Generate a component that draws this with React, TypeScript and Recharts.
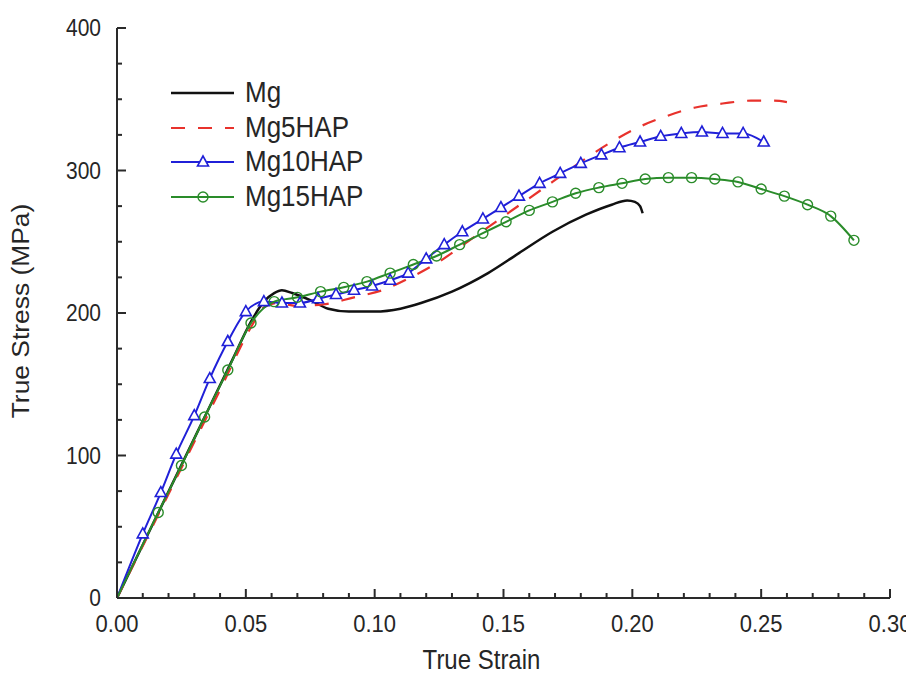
import { LineChart, Line, XAxis, YAxis, Legend, Label } from 'recharts';

// Mg (black solid)
const MG_X = [0, 0.03, 0.045, 0.052, 0.057, 0.061, 0.064, 0.068, 0.075, 0.082, 0.09, 0.1, 0.11, 0.118, 0.13, 0.144, 0.156, 0.169, 0.182, 0.192, 0.198, 0.201, 0.203, 0.204];
const MG_Y = [0, 112, 168, 194, 208, 214, 216, 214, 209, 203, 201, 201, 203, 207, 215, 228, 242, 257, 269, 276, 279, 278, 275, 270];

// Mg5HAP (red dashed)
const MG5_X = [0, 0.02, 0.04, 0.052, 0.057, 0.062, 0.07, 0.08, 0.092, 0.103, 0.114, 0.125, 0.136, 0.147, 0.158, 0.169, 0.18, 0.191, 0.202, 0.213, 0.224, 0.235, 0.246, 0.255, 0.26];
const MG5_Y = [0, 73, 146, 190, 204, 207, 205, 206, 211, 216, 225, 236, 250, 264, 278, 292, 306, 319, 330, 338, 344, 347, 349, 349, 348];

// Mg10HAP (blue, open triangles)
const MG10_X = [0, 0.01, 0.017, 0.023, 0.03, 0.036, 0.043, 0.05, 0.057, 0.064, 0.071, 0.078, 0.085, 0.092, 0.099, 0.106, 0.113, 0.12, 0.127, 0.134, 0.142, 0.149, 0.156, 0.164, 0.172, 0.18, 0.188, 0.195, 0.203, 0.211, 0.219, 0.227, 0.235, 0.243, 0.251];
const MG10_Y = [0, 45, 74, 101, 128, 154, 180, 201, 208, 207, 207, 210, 213, 216, 219, 223, 228, 238, 248, 257, 266, 274, 282, 291, 298, 305, 311, 316, 320, 324, 326, 327, 326, 326, 320];

// Mg15HAP (green, open circles)
const MG15_X = [0, 0.016, 0.025, 0.034, 0.043, 0.052, 0.061, 0.07, 0.079, 0.088, 0.097, 0.106, 0.115, 0.124, 0.133, 0.142, 0.151, 0.16, 0.169, 0.178, 0.187, 0.196, 0.205, 0.214, 0.223, 0.232, 0.241, 0.25, 0.259, 0.268, 0.277, 0.286];
const MG15_Y = [0, 60, 93, 127, 160, 193, 208, 211, 215, 218, 222, 228, 234, 240, 248, 256, 264, 272, 278, 284, 288, 291, 294, 295, 295, 294, 292, 287, 282, 276, 268, 251];

const X_TICKS = [0, 0.01, 0.02, 0.03, 0.04, 0.05, 0.06, 0.07, 0.08, 0.09, 0.1, 0.11, 0.12, 0.13, 0.14, 0.15, 0.16, 0.17, 0.18, 0.19, 0.2, 0.21, 0.22, 0.23, 0.24, 0.25, 0.26, 0.27, 0.28, 0.29, 0.3];
const X_TOP_TICKS = [0.05, 0.1, 0.15, 0.2, 0.25];
const Y_TICKS = [0, 25, 50, 75, 100, 125, 150, 175, 200, 225, 250, 275, 300, 325, 350, 375, 400];
const Y_RIGHT_TICKS = [100, 200, 300];

const SERIES = ['Mg', 'Mg5HAP', 'Mg10HAP', 'Mg15HAP'];
const COLORS = ['#111111', '#e8322c', '#2020d8', '#2a8c2a'];

const toPoints = (xs: number[], ys: number[]) => xs.map((x, i) => ({ x, y: ys[i] }));

const mg = toPoints(MG_X, MG_Y);
const mg5 = toPoints(MG5_X, MG5_Y);
const mg10 = toPoints(MG10_X, MG10_Y);
const mg15 = toPoints(MG15_X, MG15_Y);

const FONT = 'Liberation Sans, Arial, sans-serif';
const TXT = '#262626';
const AXIS = '#2a2a2a';
const STRETCH = 1.12; // reference text is a bit taller than wide

// text stretched vertically around its anchor point
function Txt({ x, y, anchor, size, children }: any) {
  return (
    <g transform={`translate(${x},${y}) scale(1,${STRETCH})`}>
      <text x={0} y={0} textAnchor={anchor} fontFamily={FONT} fontSize={size} fill={TXT}>
        {children}
      </text>
    </g>
  );
}

const isMajorX = (v: number) => Math.abs(v * 20 - Math.round(v * 20)) < 1e-6;

function XTick(props: any) {
  const { x, y, payload } = props;
  const major = isMajorX(payload.value);
  return (
    <g>
      <line x1={x} x2={x} y1={y} y2={y - (major ? 9 : 5)} stroke={AXIS} strokeWidth={2} />
      {major && (
        <Txt x={x} y={y + 34} anchor="middle" size={22}>
          {payload.value.toFixed(2)}
        </Txt>
      )}
    </g>
  );
}

function YTick(props: any) {
  const { x, y, payload } = props;
  const major = payload.value % 100 === 0;
  return (
    <g>
      <line x1={x} x2={x + (major ? 9 : 5)} y1={y} y2={y} stroke={AXIS} strokeWidth={2} />
      {major && (
        <Txt x={x - 16} y={y + 8} anchor="end" size={21}>
          {payload.value}
        </Txt>
      )}
    </g>
  );
}

function TopTick(props: any) {
  const { x, y } = props;
  return <line x1={x} x2={x} y1={y} y2={y + 9} stroke={AXIS} strokeWidth={2} />;
}

function RightTick(props: any) {
  const { x, y } = props;
  return <line x1={x} x2={x - 9} y1={y} y2={y} stroke={AXIS} strokeWidth={2} />;
}

function Triangle({ cx, cy, color }: { cx: number; cy: number; color: string }) {
  return (
    <polygon
      points={`${cx},${cy - 6} ${cx - 5.5},${cy + 4} ${cx + 5.5},${cy + 4}`}
      fill="#fff"
      stroke={color}
      strokeWidth={1.6}
    />
  );
}

function Circle({ cx, cy, color }: { cx: number; cy: number; color: string }) {
  return <circle cx={cx} cy={cy} r={5} fill="none" stroke={color} strokeWidth={1.4} />;
}

const triDot = (p: any) =>
  p.payload.x === 0 ? <g key={p.index} /> : <Triangle key={p.index} cx={p.cx} cy={p.cy} color={COLORS[2]} />;
const circDot = (p: any) =>
  p.payload.x === 0 ? <g key={p.index} /> : <Circle key={p.index} cx={p.cx} cy={p.cy} color={COLORS[3]} />;

function LegendBox() {
  const rows = [18, 53, 87, 122];
  return (
    <svg width={260} height={140}>
      {SERIES.map((name, i) => (
        <g key={name}>
          <line
            x1={6}
            x2={69}
            y1={rows[i]}
            y2={rows[i]}
            stroke={COLORS[i]}
            strokeWidth={i === 0 ? 2.5 : 2}
            strokeDasharray={i === 1 ? '14 13' : undefined}
          />
          {i === 2 && <Triangle cx={38} cy={rows[i]} color={COLORS[2]} />}
          {i === 3 && <Circle cx={38} cy={rows[i]} color={COLORS[3]} />}
          <Txt x={80} y={rows[i] + 9} anchor="start" size={26}>
            {name}
          </Txt>
        </g>
      ))}
    </svg>
  );
}

export default function App() {
  return (
    <div style={{ width: 906, height: 665, background: '#fff' }}>
      <LineChart width={906} height={665} margin={{ top: 20, right: 24, bottom: 0, left: 49 }}>
        <XAxis
          dataKey="x"
          type="number"
          domain={[0, 0.3]}
          ticks={X_TICKS}
          interval={0}
          tick={XTick}
          tickSize={0}
          tickMargin={0}
          tickLine={false}
          axisLine={{ stroke: AXIS, strokeWidth: 2 }}
          height={75}
          allowDataOverflow
        >
          <Label
            content={(p: any) => (
              <Txt x={p.viewBox.x + p.viewBox.width / 2 - 22} y={p.viewBox.y + 71} anchor="middle" size={24}>
                True Strain
              </Txt>
            )}
          />
        </XAxis>
        <XAxis
          xAxisId="top"
          orientation="top"
          dataKey="x"
          type="number"
          domain={[0, 0.3]}
          ticks={X_TOP_TICKS}
          interval={0}
          tick={TopTick}
          tickSize={0}
          tickMargin={0}
          tickLine={false}
          axisLine={{ stroke: AXIS, strokeWidth: 2 }}
          height={0}
          allowDataOverflow
        />
        <YAxis
          type="number"
          domain={[0, 400]}
          ticks={Y_TICKS}
          interval={0}
          tick={YTick}
          tickSize={0}
          tickMargin={0}
          tickLine={false}
          axisLine={{ stroke: AXIS, strokeWidth: 2 }}
          width={60}
          allowDataOverflow
        >
          <Label
            content={(p: any) => {
              const cx = 12;
              const cy = p.viewBox.y + p.viewBox.height / 2 - 2;
              return (
                <g transform={`translate(${cx},${cy}) rotate(-90) scale(1.1,1)`}>
                  <text
                    x={0}
                    y={0}
                    textAnchor="middle"
                    dominantBaseline="central"
                    fontFamily={FONT}
                    fontSize={24}
                    fill={TXT}
                  >
                    True Stress (MPa)
                  </text>
                </g>
              );
            }}
          />
        </YAxis>
        <YAxis
          yAxisId="right"
          orientation="right"
          type="number"
          domain={[0, 400]}
          ticks={Y_RIGHT_TICKS}
          interval={0}
          tick={RightTick}
          tickSize={0}
          tickMargin={0}
          tickLine={false}
          axisLine={{ stroke: AXIS, strokeWidth: 2 }}
          width={0}
          allowDataOverflow
        />
        <Legend
          layout="vertical"
          align="center"
          verticalAlign="middle"
          wrapperStyle={{ position: 'absolute', left: 157, top: 67, width: 260, height: 140 }}
          content={() => <LegendBox />}
        />
        <Line
          data={mg}
          dataKey="y"
          name="Mg"
          type="monotone"
          stroke={COLORS[0]}
          strokeWidth={2.5}
          dot={false}
          isAnimationActive={false}
        />
        <Line
          data={mg5}
          dataKey="y"
          name="Mg5HAP"
          type="monotone"
          stroke={COLORS[1]}
          strokeWidth={2.2}
          strokeDasharray="14 13"
          dot={false}
          isAnimationActive={false}
        />
        <Line
          data={mg10}
          dataKey="y"
          name="Mg10HAP"
          type="monotone"
          stroke={COLORS[2]}
          strokeWidth={2}
          dot={triDot}
          isAnimationActive={false}
        />
        <Line
          data={mg15}
          dataKey="y"
          name="Mg15HAP"
          type="monotone"
          stroke={COLORS[3]}
          strokeWidth={2}
          dot={circDot}
          isAnimationActive={false}
        />
      </LineChart>
    </div>
  );
}
